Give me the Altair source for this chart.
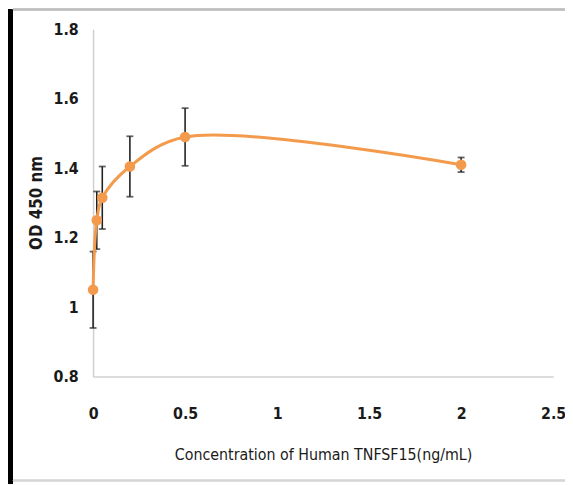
import altair as alt
import pandas as pd

conc = [0, 0.02, 0.05, 0.2, 0.5, 2]
od = [1.05, 1.25, 1.315, 1.405, 1.49, 1.41]
err = [0.11, 0.083, 0.09, 0.087, 0.083, 0.021]

df = pd.DataFrame({"x": conc, "y": od, "err": err})
df["lo"] = df["y"] - df["err"]
df["hi"] = df["y"] + df["err"]

FONT = "Liberation Sans Narrow, DejaVu Sans Condensed, Open Sans"
ORANGE = "#F39A4C"

xs = alt.Scale(domain=[0, 2.5], nice=False)
ys = alt.Scale(domain=[0.8, 1.8], nice=False, zero=False)

xax = alt.Axis(values=[0, 0.5, 1, 1.5, 2, 2.5], format="~g", grid=False, ticks=False,
               domainColor="#d0d0d0", domainWidth=1.5, labelFont=FONT,
               labelFontSize=16, labelFontWeight="bold", labelColor="#1a1a1a",
               labelPadding=29, labelFlush=False, labelOverlap=False,
               title="Concentration of Human TNFSF15(ng/mL)", titleFont=FONT,
               titleFontSize=16, titleFontWeight="normal", titleColor="#1a1a1a",
               titleBaseline="middle", titleY=79)
yax = alt.Axis(values=[0.8, 1.0, 1.2, 1.4, 1.6, 1.8], format="~g", grid=False, ticks=False,
               domainColor="#d0d0d0", domainWidth=1.5, labelFont=FONT,
               labelFontSize=16, labelFontWeight="bold", labelColor="#1a1a1a",
               labelPadding=15, labelFlush=False, labelOverlap=False,
               title="OD 450 nm", titleFont=FONT, titleFontSize=17,
               titleFontWeight="bold", titleColor="#1a1a1a",
               titleX=-57, titleY=175, titleAngle=270, titleBaseline="middle")

base = alt.Chart(df)

rules = base.mark_rule(color="#222222", strokeWidth=1.6).encode(
    x=alt.X("x:Q", scale=xs, axis=xax), y=alt.Y("lo:Q", scale=ys, axis=yax), y2="hi:Q")
caps_lo = base.mark_tick(color="#222222", thickness=1.8, size=7, orient="horizontal").encode(
    x=alt.X("x:Q", scale=xs), y=alt.Y("lo:Q", scale=ys))
caps_hi = base.mark_tick(color="#222222", thickness=1.8, size=7, orient="horizontal").encode(
    x=alt.X("x:Q", scale=xs), y=alt.Y("hi:Q", scale=ys))
line = base.mark_line(color=ORANGE, strokeWidth=3, interpolate="catmull-rom").encode(
    x=alt.X("x:Q", scale=xs), y=alt.Y("y:Q", scale=ys))
pts = base.mark_circle(color=ORANGE, size=115, opacity=1).encode(
    x=alt.X("x:Q", scale=xs), y=alt.Y("y:Q", scale=ys))

# decorative frame of the original picture
frame_bar = alt.Chart(df).mark_rule(color="black", strokeWidth=9, clip=False).encode(
    x=alt.value(-85.5), y=alt.value(-20), y2=alt.value(460))
frame_top = alt.Chart(df).mark_rule(color="#bdbdbd", strokeWidth=1.5, clip=False).encode(
    x=alt.value(-81), x2=alt.value(477), y=alt.value(-20))
frame_bot = alt.Chart(df).mark_rule(color="#d5d5d5", strokeWidth=1.5, clip=False).encode(
    x=alt.value(-81), x2=alt.value(477), y=alt.value(456))

chart = alt.layer(frame_bar, frame_top, frame_bot, rules, caps_lo, caps_hi, line, pts).properties(
    width=465, height=351,
    autosize=alt.AutoSizeParams(type="none"),
    padding={"left": 86, "top": 19, "right": 12, "bottom": 106},
    background="white",
).configure_view(stroke=None)

chart.save("out.html", embed_options={"renderer": "svg", "actions": False})
